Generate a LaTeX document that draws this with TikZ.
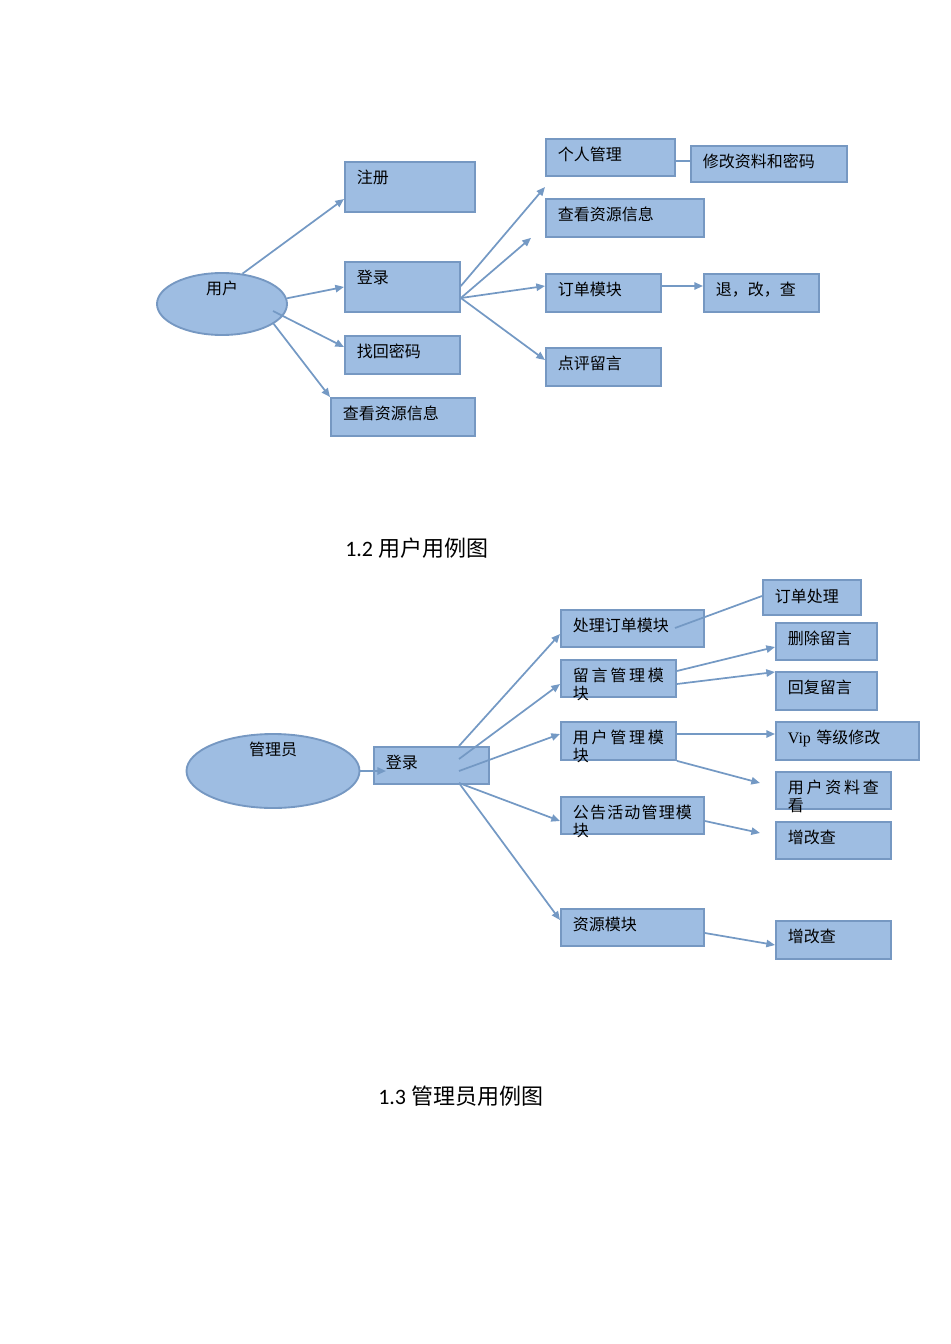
\documentclass[tikz,border=0pt]{standalone}
\usepackage{fontspec}
\setmainfont{Liberation Serif}
\newfontfamily\cjk{Noto Sans CJK SC}
\newfontfamily\capfont{Carlito}
\usetikzlibrary{arrows.meta,shapes.geometric}
\definecolor{boxfill}{RGB}{158,189,226}
\definecolor{boxline}{RGB}{118,152,194}
\definecolor{linkcol}{RGB}{116,153,196}
% second line that runs out of the box
\newcommand\spill[1]{\leavevmode\rlap{\raisebox{-13.5pt}[0pt][0pt]{#1}}}

\begin{document}
\begin{tikzpicture}[
    x=0.75pt, y=-0.75pt,
    ubox/.style={draw=boxline, fill=boxfill, line width=1.4pt, anchor=north west,
                 inner xsep=9pt, inner ysep=0pt, text height=16.5pt, align=left,
                 font=\cjk\fontsize{12}{13.5}\selectfont},
    uell/.style={ellipse, draw=boxline, fill=boxfill, line width=1.4pt, inner sep=0pt,
                 text height=4pt, font=\cjk\fontsize{12}{13.5}\selectfont},
    arr/.style={-{Triangle[length=6.5pt,width=5.5pt]}, draw=linkcol, line width=1.3pt},
    lnk/.style={draw=linkcol, line width=1.3pt},
    capnode/.style={anchor=west, inner sep=0pt, font=\fontsize{16.5}{19}\selectfont},
]
  \useasboundingbox (0,0) rectangle (950,1344);

  % 1.2: user
  \node[uell, minimum width=97.5pt, minimum height=46.5pt, text depth=17.7pt] (user) at (222,304) {用户};
  \node[ubox, text width=79.5pt, text depth=21pt] (reg) at (344,161) {注册};
  \node[ubox, text width=68.25pt, text depth=21pt] (login) at (344,261) {登录};
  \node[ubox, text width=68.25pt, text depth=12pt] (findpw) at (344,335) {找回密码};
  \node[ubox, text width=90pt, text depth=12pt] (viewres) at (330,397) {查看资源信息};
  \node[ubox, text width=78.75pt, text depth=11.25pt] (personal) at (545,138) {个人管理};
  \node[ubox, text width=99pt, text depth=10.5pt] (modinfo) at (690,145) {修改资料和密码};
  \node[ubox, text width=100.5pt, text depth=12pt] (viewres2) at (545,198) {查看资源信息};
  \node[ubox, text width=68.25pt, text depth=12pt] (order) at (545,273) {订单模块};
  \node[ubox, text width=68.25pt, text depth=12pt] (orderop) at (703,273) {退，改，查};
  \node[ubox, text width=68.25pt, text depth=12pt] (comment) at (545,347) {点评留言};

  \draw[arr] (user.56) -- ([shift={(0,38)}]reg.north west);
  \draw[arr] (user.5) -- (login.west);
  \draw[arr] ([shift={(51,7)}]user.center) -- ([shift={(0,12)}]findpw.north west);
  \draw[arr] ([shift={(51,19)}]user.center) -- (viewres.north west);
  \draw[arr] ([shift={(0,25)}]login.north east) -- ([shift={(0,-11)}]viewres2.north west);
  \draw[arr] ([shift={(0,37)}]login.north east) -- ([shift={(-14,0)}]viewres2.south west);
  \draw[arr] ([shift={(0,37)}]login.north east) -- ([shift={(0,13)}]order.north west);
  \draw[arr] ([shift={(0,37)}]login.north east) -- ([shift={(0,13)}]comment.north west);
  \draw[lnk] ([shift={(0,23)}]personal.north east) -- ([shift={(0,16)}]modinfo.north west);
  \draw[arr] ([shift={(0,13)}]order.north east) -- ([shift={(0,13)}]orderop.north west);

  \node[capnode] (cap1) at (345,548) {{\capfont 1.2} \cjk 用户用例图};

  % 1.3: admin
  \node[uell, minimum width=129.75pt, minimum height=55.5pt, text depth=26.7pt] (admin) at (273,771) {管理员};
  \node[ubox, text width=68.25pt, text depth=11.25pt] (adlogin) at (373,746) {登录};
  \node[ubox, text width=89.25pt, text depth=11.25pt] (orderproc) at (560,609) {处理订单模块};
  \node[ubox, text width=55.5pt, text height=17.25pt, text depth=9pt] (orderhandle) at (762,579) {订单处理};
  \node[ubox, text width=68.25pt, text depth=11.25pt] (msgmod) at (560,659)
       {\spill{块}留\hfill 言\hfill 管\hfill 理\hfill 模};
  \node[ubox, text width=57.75pt, text depth=11.25pt] (delmsg) at (775,622) {删除留言};
  \node[ubox, text width=57.75pt, text depth=12pt] (replymsg) at (775,671) {回复留言};
  \node[ubox, text width=68.25pt, text depth=12pt] (usermod) at (560,721)
       {\spill{块}用\hfill 户\hfill 管\hfill 理\hfill 模};
  \node[ubox, text width=89.25pt, text depth=12pt] (vipmod) at (775,721) {{\rmfamily Vip} 等级修改};
  \node[ubox, text width=68.25pt, text depth=11.25pt] (userinfo) at (775,771)
       {\spill{看}用\hfill 户\hfill 资\hfill 料\hfill 查};
  \node[ubox, text width=89.25pt, text depth=11.25pt] (noticemod) at (560,796)
       {\spill{块}公\hfill 告\hfill 活\hfill 动\hfill 管\hfill 理\hfill 模};
  \node[ubox, text width=68.25pt, text depth=11.25pt] (noticeop) at (775,821) {增改查};
  \node[ubox, text width=89.25pt, text depth=11.25pt] (resmod) at (560,908) {资源模块};
  \node[ubox, text width=68.25pt, text depth=12pt] (resop) at (775,920) {增改查};

  \draw[arr] (admin.east) -- ([shift={(13,25)}]adlogin.north west);
  \draw[arr] ([shift={(86,0)}]adlogin.north west) -- ([shift={(0,25)}]orderproc.north west);
  \draw[arr] ([shift={(86,13)}]adlogin.north west) -- ([shift={(0,25)}]msgmod.north west);
  \draw[arr] ([shift={(86,25)}]adlogin.north west) -- ([shift={(0,13)}]usermod.north west);
  \draw[arr] ([shift={(86,37)}]adlogin.north west) -- ([shift={(0,25)}]noticemod.north west);
  \draw[arr] ([shift={(86,37)}]adlogin.north west) -- ([shift={(0,12)}]resmod.north west);
  \draw[lnk] ([shift={(115,19)}]orderproc.north west) -- ([shift={(0,17)}]orderhandle.north west);
  \draw[arr] ([shift={(0,12)}]msgmod.north east) -- ([shift={(0,25)}]delmsg.north west);
  \draw[arr] ([shift={(0,25)}]msgmod.north east) -- ([shift={(0,1)}]replymsg.north west);
  \draw[arr] ([shift={(0,13)}]usermod.north east) -- ([shift={(0,13)}]vipmod.north west);
  \draw[arr] (usermod.south east) -- ([shift={(-15,12)}]userinfo.north west);
  \draw[arr] ([shift={(0,25)}]noticemod.north east) -- ([shift={(-15,12)}]noticeop.north west);
  \draw[arr] ([shift={(0,25)}]resmod.north east) -- ([shift={(0,25)}]resop.north west);

  \node[capnode] (cap2) at (378,1096) {{\capfont 1.3} \cjk 管理员用例图};
\end{tikzpicture}
\end{document}
